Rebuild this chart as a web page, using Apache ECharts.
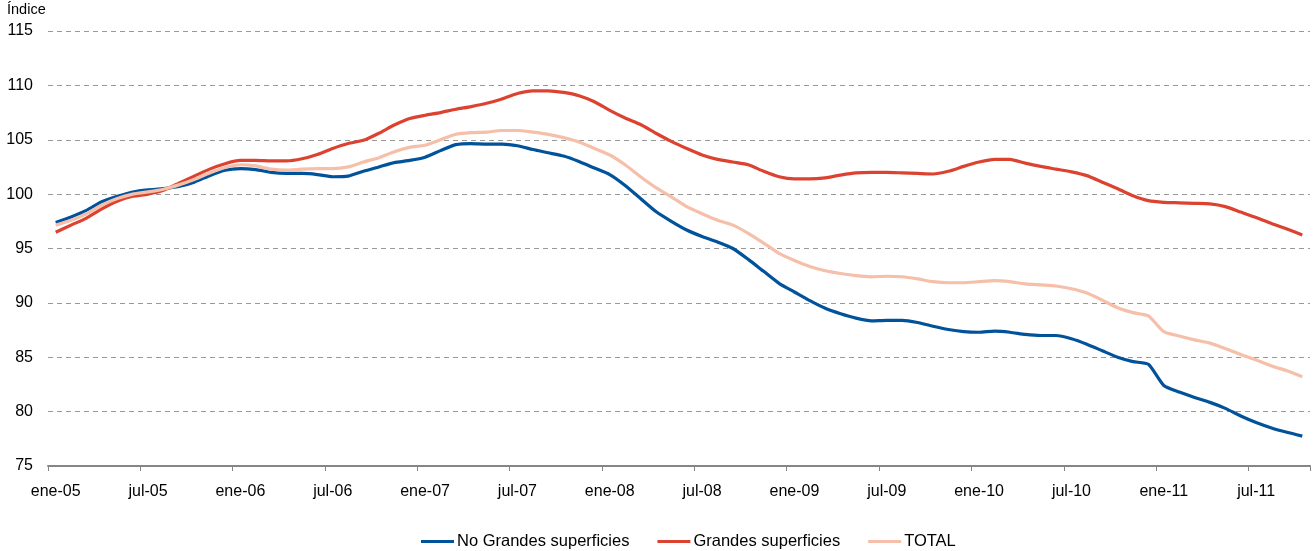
<!DOCTYPE html>
<html>
<head>
<meta charset="utf-8">
<script src="https://cdn.jsdelivr.net/npm/echarts@6/dist/echarts.min.js"></script>
<style>html,body{margin:0;padding:0;background:#fff}#c{width:1314px;height:551px}</style>
</head>
<body>
<div id="c"></div>
<script>
const monthNames = ['ene','feb','mar','abr','may','jun','jul','ago','sep','oct','nov','dic'];
const years = ['05','06','07','08','09','10','11'];
const categories = [];
years.forEach(y => monthNames.forEach(m => categories.push(m + '-' + y)));
categories.length = 82; // ene-05 .. oct-11

const seriesNames = ['No Grandes superficies', 'Grandes superficies', 'TOTAL'];

const noGrandes = [97.4,97.9,98.5,99.3,99.8,100.2,100.4,100.5,100.7,101.1,101.7,102.2,102.35,102.25,102.0,101.9,101.9,101.8,101.6,101.65,102.1,102.5,102.9,103.1,103.4,104.0,104.55,104.65,104.6,104.6,104.45,104.1,103.8,103.5,103.0,102.4,101.8,100.8,99.6,98.4,97.5,96.7,96.1,95.6,95.0,94.0,92.9,91.8,91.0,90.2,89.5,89.0,88.6,88.35,88.4,88.4,88.2,87.85,87.55,87.35,87.3,87.4,87.3,87.1,87.0,87.0,86.7,86.2,85.6,85.0,84.6,84.35,82.4,81.8,81.3,80.85,80.3,79.6,79.0,78.5,78.1,77.75];

const grandes = [96.5,97.15,97.8,98.65,99.35,99.8,100.0,100.35,101.0,101.65,102.3,102.8,103.1,103.1,103.05,103.05,103.25,103.65,104.2,104.65,104.95,105.6,106.35,106.95,107.25,107.5,107.8,108.05,108.35,108.75,109.25,109.5,109.5,109.35,109.05,108.5,107.7,107.0,106.4,105.6,104.85,104.2,103.6,103.2,102.95,102.7,102.1,101.6,101.4,101.4,101.5,101.75,101.95,102.0,102.0,101.95,101.9,101.85,102.1,102.55,102.95,103.2,103.2,102.85,102.55,102.3,102.05,101.7,101.1,100.5,99.85,99.4,99.25,99.2,99.15,99.1,98.85,98.35,97.85,97.3,96.8,96.25];

const total = [97.15,97.6,98.2,99.0,99.6,100.0,100.2,100.45,100.85,101.35,101.95,102.45,102.7,102.6,102.3,102.2,102.3,102.35,102.35,102.5,102.95,103.35,103.9,104.3,104.5,105.0,105.5,105.65,105.7,105.85,105.85,105.7,105.5,105.2,104.8,104.2,103.6,102.7,101.6,100.6,99.75,98.85,98.2,97.6,97.15,96.4,95.5,94.55,93.9,93.35,92.95,92.7,92.5,92.4,92.45,92.4,92.2,91.95,91.85,91.85,91.95,92.05,91.95,91.75,91.65,91.55,91.3,90.9,90.25,89.55,89.1,88.8,87.35,86.95,86.6,86.3,85.8,85.25,84.75,84.2,83.75,83.2];

const yMin = 75, yMax = 115, yStep = 5;
const colors = ['#00529b', '#db4330', '#f5bfa9'];
const font = 'Arial, "Liberation Sans", sans-serif';

const chart = echarts.init(document.getElementById('c'), null, {renderer: 'canvas'});
const values = [noGrandes, grandes, total];
chart.setOption({
  animation: false,
  textStyle: {fontFamily: font},
  graphic: [{type: 'text', left: 7, top: 2, style: {text: 'Índice', fontSize: 14.5, fill: '#000', fontFamily: font}}],
  legend: {
    left: 416, top: 528,
    itemWidth: 33, itemHeight: 3, itemGap: 28,
    icon: 'rect',
    textStyle: {fontSize: 16.5, color: '#000', fontFamily: font, padding: [0,0,0,-2]},
    data: seriesNames
  },
  grid: {left: 48, right: 4, top: 31, bottom: 85, containLabel: false},
  xAxis: {
    type: 'category', data: categories, boundaryGap: true,
    axisLine: {lineStyle: {color: '#868686', width: 2}},
    axisTick: {show: true, interval: 5, length: 5, lineStyle: {color: '#868686', width: 1}},
    axisLabel: {interval: 5, fontSize: 16, color: '#000', margin: 18, fontFamily: font},
    splitLine: {show: false}
  },
  yAxis: {
    type: 'value', min: yMin, max: yMax, interval: yStep,
    axisLine: {show: false}, axisTick: {show: false},
    axisLabel: {fontSize: 16, color: '#000', margin: 15, fontFamily: font},
    splitLine: {lineStyle: {color: '#999', type: [5, 4], width: 1}}
  },
  series: seriesNames.map((n, k) => ({
    name: n, type: 'line', data: values[k], symbol: 'none', smooth: 0.2,
    lineStyle: {color: colors[k], width: 3.2}, itemStyle: {color: colors[k]}
  }))
});
</script>
</body>
</html>
